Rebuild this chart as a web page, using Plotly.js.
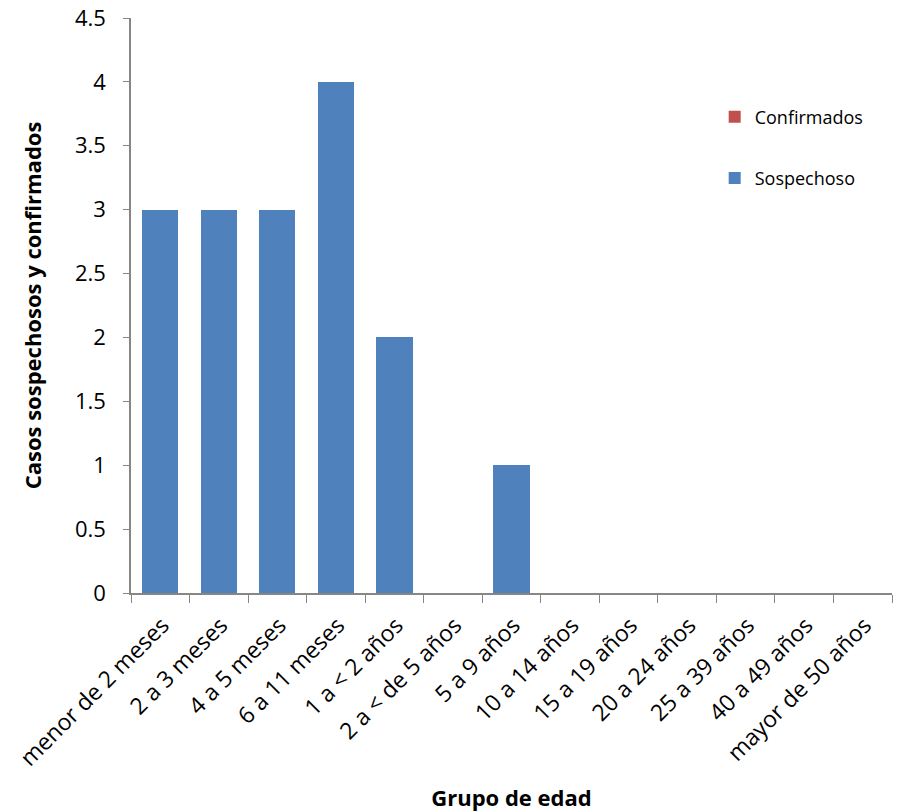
<!DOCTYPE html>
<html>
<head>
<meta charset="utf-8">
<script src="https://cdn.plot.ly/plotly-3.0.1.min.js"></script>
<style>html,body{margin:0;padding:0;background:#fff;}#chart{width:897px;height:812px;}</style>
</head>
<body>
<div id="chart"></div>
<script>
const categories = ["menor de 2 meses","2 a 3 meses","4 a 5 meses","6 a 11 meses","1 a < 2 años","2 a < de 5 años","5 a 9 años","10 a 14 años","15 a 19 años","20 a 24 años","25 a 39 años","40 a 49 años","mayor de 50 años"];
const sospechoso = [3,3,3,4,2,0,1,0,0,0,0,0,0];
const confirmados = [0,0,0,0,0,0,0,0,0,0,0,0,0];
const yTicks = [0,0.5,1,1.5,2,2.5,3,3.5,4,4.5];

const FONT = "Open Sans, DejaVu Sans, sans-serif";
const data = [
  {type:"bar", name:"Confirmados", x:categories, y:confirmados, marker:{color:"#C0504D"}, legendgroup:"c"},
  {type:"bar", name:"Sospechoso", x:categories, y:sospechoso, marker:{color:"#4F81BD"}, legendgroup:"s"}
];
const layout = {
  width:897, height:812,
  margin:{l:131, r:5, t:18, b:219},
  barmode:"stack", bargap:0.38,
  paper_bgcolor:"#fff", plot_bgcolor:"#fff",
  font:{family:FONT, size:18, color:"#000"},
  showlegend:true,
  legend:{x:0.767, y:0.86, xanchor:"left", yanchor:"top", traceorder:"grouped", tracegroupgap:35, font:{size:18}, bgcolor:"rgba(0,0,0,0)", itemwidth:30},
  xaxis:{type:"category", tickangle:-45, tickson:"boundaries", ticks:"outside", ticklen:8, tickcolor:"#868686",
    showline:true, linecolor:"#868686", linewidth:1.5, showgrid:false, zeroline:false,
    tickfont:{size:23}, ticklabelshift:2, ticklabelstandoff:8,
    title:{text:"<b>Grupo de edad</b>", font:{size:22}, standoff:29}},
  yaxis:{range:[0,4.5], tickvals:yTicks, ticktext:yTicks.map(String), ticks:"outside", ticklen:6, tickcolor:"#868686",
    showline:true, linecolor:"#868686", linewidth:1.5, showgrid:false, zeroline:false,
    tickfont:{size:22}, ticklabelstandoff:13,
    title:{text:"<b>Casos sospechosos y confirmados</b>", font:{size:22}, standoff:27}}
};
Plotly.newPlot("chart", data, layout, {displayModeBar:false});
</script>
</body>
</html>
